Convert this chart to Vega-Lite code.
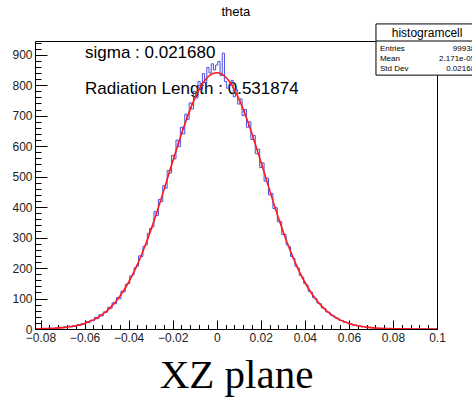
{
 "$schema": "https://vega.github.io/schema/vega-lite/v6.json",
 "width": 402, "height": 288,
 "autosize": {"type": "none"},
 "padding": {"left": 35, "top": 41, "right": 35, "bottom": 68},
 "background": "white",
 "config": {"view": {"stroke": "black", "strokeWidth": 1}, "font": "Liberation Sans"},
 "datasets": {
  "hist": [
   {"x":-0.082,"y":0},{"x":-0.081,"y":1},{"x":-0.08,"y":0},{"x":-0.079,"y":2},{"x":-0.078,"y":1},{"x":-0.077,"y":1},{"x":-0.076,"y":3},{"x":-0.075,"y":2},{"x":-0.074,"y":1},{"x":-0.073,"y":4},
   {"x":-0.072,"y":3},{"x":-0.071,"y":6},{"x":-0.07,"y":4},{"x":-0.069,"y":7},{"x":-0.068,"y":5},{"x":-0.067,"y":9},{"x":-0.066,"y":7},{"x":-0.065,"y":11},{"x":-0.064,"y":9},{"x":-0.063,"y":14},
   {"x":-0.062,"y":12},{"x":-0.061,"y":18},{"x":-0.06,"y":16},{"x":-0.059,"y":24},{"x":-0.058,"y":21},{"x":-0.057,"y":29},{"x":-0.056,"y":27},{"x":-0.055,"y":38},{"x":-0.054,"y":34},{"x":-0.053,"y":47},
   {"x":-0.052,"y":43},{"x":-0.051,"y":56},{"x":-0.05,"y":55},{"x":-0.049,"y":71},{"x":-0.048,"y":68},{"x":-0.047,"y":86},{"x":-0.046,"y":83},{"x":-0.045,"y":103},{"x":-0.044,"y":99},{"x":-0.043,"y":124},
   {"x":-0.042,"y":122},{"x":-0.041,"y":147},{"x":-0.04,"y":149},{"x":-0.039,"y":174},{"x":-0.038,"y":178},{"x":-0.037,"y":201},{"x":-0.036,"y":206},{"x":-0.035,"y":240},{"x":-0.034,"y":238},{"x":-0.033,"y":271},
   {"x":-0.032,"y":276},{"x":-0.031,"y":314},{"x":-0.03,"y":330},{"x":-0.029,"y":335},{"x":-0.028,"y":385},{"x":-0.027,"y":372},{"x":-0.026,"y":425},{"x":-0.025,"y":418},{"x":-0.024,"y":470},{"x":-0.023,"y":462},
   {"x":-0.022,"y":520},{"x":-0.021,"y":512},{"x":-0.02,"y":570},{"x":-0.019,"y":558},{"x":-0.018,"y":620},{"x":-0.017,"y":598},{"x":-0.016,"y":662},{"x":-0.015,"y":640},{"x":-0.014,"y":705},{"x":-0.013,"y":688},
   {"x":-0.012,"y":742},{"x":-0.011,"y":722},{"x":-0.01,"y":780},{"x":-0.009,"y":758},{"x":-0.008,"y":812},{"x":-0.007,"y":785},{"x":-0.006,"y":838},{"x":-0.005,"y":808},{"x":-0.004,"y":858},{"x":-0.003,"y":840},
   {"x":-0.002,"y":870},{"x":-0.001,"y":850},{"x":0,"y":866},{"x":0.001,"y":878},{"x":0.002,"y":832},{"x":0.003,"y":905},{"x":0.004,"y":812},{"x":0.005,"y":790},{"x":0.006,"y":800},{"x":0.007,"y":815},
   {"x":0.008,"y":762},{"x":0.009,"y":785},{"x":0.01,"y":738},{"x":0.011,"y":755},{"x":0.012,"y":700},{"x":0.013,"y":720},{"x":0.014,"y":662},{"x":0.015,"y":680},{"x":0.016,"y":622},{"x":0.017,"y":635},
   {"x":0.018,"y":575},{"x":0.019,"y":590},{"x":0.02,"y":530},{"x":0.021,"y":545},{"x":0.022,"y":485},{"x":0.023,"y":495},{"x":0.024,"y":440},{"x":0.025,"y":445},{"x":0.026,"y":395},{"x":0.027,"y":398},
   {"x":0.028,"y":352},{"x":0.029,"y":352},{"x":0.03,"y":310},{"x":0.031,"y":310},{"x":0.032,"y":276},{"x":0.033,"y":270},{"x":0.034,"y":238},{"x":0.035,"y":232},{"x":0.036,"y":206},{"x":0.037,"y":200},
   {"x":0.038,"y":176},{"x":0.039,"y":170},{"x":0.04,"y":150},{"x":0.041,"y":144},{"x":0.042,"y":124},{"x":0.043,"y":121},{"x":0.044,"y":103},{"x":0.045,"y":100},{"x":0.046,"y":85},{"x":0.047,"y":83},
   {"x":0.048,"y":69},{"x":0.049,"y":67},{"x":0.05,"y":56},{"x":0.051,"y":55},{"x":0.052,"y":45},{"x":0.053,"y":44},{"x":0.054,"y":36},{"x":0.055,"y":35},{"x":0.056,"y":28},{"x":0.057,"y":28},
   {"x":0.058,"y":22},{"x":0.059,"y":22},{"x":0.06,"y":17},{"x":0.061,"y":17},{"x":0.062,"y":13},{"x":0.063,"y":13},{"x":0.064,"y":10},{"x":0.065,"y":10},{"x":0.066,"y":7},{"x":0.067,"y":8},
   {"x":0.068,"y":5},{"x":0.069,"y":6},{"x":0.07,"y":4},{"x":0.071,"y":4},{"x":0.072,"y":3},{"x":0.073,"y":3},{"x":0.074,"y":2},{"x":0.075,"y":2},{"x":0.076,"y":1},{"x":0.077,"y":2},
   {"x":0.078,"y":1},{"x":0.079,"y":1},{"x":0.08,"y":0},{"x":0.081,"y":1},{"x":0.082,"y":0},{"x":0.083,"y":1},{"x":0.084,"y":0},{"x":0.09,"y":0},{"x":0.095,"y":0},{"x":0.1,"y":0}
  ],
  "fit": [
   {"x":-0.082,"y":0.66},{"x":-0.08,"y":0.93},{"x":-0.078,"y":1.3},{"x":-0.076,"y":1.8},{"x":-0.074,"y":2.5},{"x":-0.072,"y":3.4},{"x":-0.07,"y":4.6},{"x":-0.068,"y":6.1},{"x":-0.066,"y":8.2},{"x":-0.064,"y":10.8},
   {"x":-0.062,"y":14.1},{"x":-0.06,"y":18.3},{"x":-0.058,"y":23.5},{"x":-0.056,"y":29.9},{"x":-0.054,"y":37.8},{"x":-0.052,"y":47.4},{"x":-0.05,"y":58.9},{"x":-0.048,"y":72.5},{"x":-0.046,"y":88.6},{"x":-0.044,"y":107.3},
   {"x":-0.042,"y":128.9},{"x":-0.04,"y":153.4},{"x":-0.038,"y":181.1},{"x":-0.036,"y":211.9},{"x":-0.034,"y":245.9},{"x":-0.032,"y":282.9},{"x":-0.03,"y":322.8},{"x":-0.028,"y":365.2},{"x":-0.026,"y":409.7},{"x":-0.024,"y":455.7},
   {"x":-0.022,"y":502.6},{"x":-0.02,"y":549.5},{"x":-0.018,"y":595.8},{"x":-0.016,"y":640.5},{"x":-0.014,"y":682.7},{"x":-0.012,"y":721.5},{"x":-0.01,"y":756.1},{"x":-0.008,"y":785.6},{"x":-0.006,"y":809.4},{"x":-0.004,"y":826.8},
   {"x":-0.002,"y":837.4},{"x":0,"y":841},{"x":0.002,"y":837.4},{"x":0.004,"y":826.8},{"x":0.006,"y":809.4},{"x":0.008,"y":785.6},{"x":0.01,"y":756.1},{"x":0.012,"y":721.5},{"x":0.014,"y":682.7},{"x":0.016,"y":640.5},
   {"x":0.018,"y":595.8},{"x":0.02,"y":549.5},{"x":0.022,"y":502.6},{"x":0.024,"y":455.7},{"x":0.026,"y":409.7},{"x":0.028,"y":365.2},{"x":0.03,"y":322.8},{"x":0.032,"y":282.9},{"x":0.034,"y":245.9},{"x":0.036,"y":211.9},
   {"x":0.038,"y":181.1},{"x":0.04,"y":153.4},{"x":0.042,"y":128.9},{"x":0.044,"y":107.3},{"x":0.046,"y":88.6},{"x":0.048,"y":72.5},{"x":0.05,"y":58.9},{"x":0.052,"y":47.4},{"x":0.054,"y":37.8},{"x":0.056,"y":29.9},
   {"x":0.058,"y":23.5},{"x":0.06,"y":18.3},{"x":0.062,"y":14.1},{"x":0.064,"y":10.8},{"x":0.066,"y":8.2},{"x":0.068,"y":6.1},{"x":0.07,"y":4.6},{"x":0.072,"y":3.4},{"x":0.074,"y":2.5},{"x":0.076,"y":1.8},
   {"x":0.078,"y":1.3},{"x":0.08,"y":0.93},{"x":0.082,"y":0.66},{"x":0.084,"y":0.46},{"x":0.086,"y":0.32},{"x":0.088,"y":0.22},{"x":0.09,"y":0.15},{"x":0.092,"y":0.1},{"x":0.094,"y":0.07},{"x":0.096,"y":0.04},{"x":0.098,"y":0.03},{"x":0.1,"y":0.02}
  ],
  "notes": [
   {"x":-0.0598,"y":905,"label":"sigma : 0.021680"},
   {"x":-0.0598,"y":787,"label":"Radiation Length : 0.531874"}
  ],
  "title": [{"x":0.0087,"y":1040,"label":"theta"}],
  "box": [{"x":0.0723,"x2":0.1186,"y":1001,"y2":833}],
  "sep": [{"x":0.0723,"x2":0.1186,"y":945}],
  "head": [{"x":0.0955,"y":971,"label":"histogramcell"}],
  "statnames": [{"x":0.0741,"y":919,"label":"Entries"},{"x":0.0741,"y":886,"label":"Mean"},{"x":0.0741,"y":853,"label":"Std Dev"}],
  "statvals": [{"x":0.1173,"y":919,"label":"99938"},{"x":0.1173,"y":886,"label":"2.171e-05"},{"x":0.1173,"y":853,"label":"0.02168"}]
 },
 "layer": [
  {"data": {"name": "notes"}, "mark": {"type": "text", "align": "left", "baseline": "middle", "fontSize": 17, "font": "Liberation Sans", "color": "black"},
   "encoding": {
    "x": {"field": "x", "type": "quantitative",
      "scale": {"domain": [-0.0825, 0.1], "nice": false, "zero": false},
      "axis": {"values": [-0.08,-0.076,-0.072,-0.068,-0.064,-0.06,-0.056,-0.052,-0.048,-0.044,-0.04,-0.036,-0.032,-0.028,-0.024,-0.02,-0.016,-0.012,-0.008,-0.004,0,0.004,0.008,0.012,0.016,0.02,0.024,0.028,0.032,0.036,0.04,0.044,0.048,0.052,0.056,0.06,0.064,0.068,0.072,0.076,0.08,0.084,0.088,0.092,0.096,0.1],
        "tickCount": 200,
        "labelExpr": "abs(datum.value*50 - round(datum.value*50)) < 1e-6 ? format(datum.value, '~g') : ''",
        "tickSize": {"condition": {"test": "abs(datum.value*50 - round(datum.value*50)) < 1e-6", "value": -9}, "value": -4.5},
        "labelPadding": 12, "labelFontSize": 12, "labelColor": "#222", "labelFont": "Liberation Sans",
        "labelOverlap": false, "labelFlush": false, "labelBound": false, "grid": false,
        "domainColor": "black", "tickColor": "black",
        "title": "XZ plane", "titleFont": "Liberation Serif", "titleFontSize": 41, "titleFontWeight": "normal", "titleColor": "black", "titlePadding": 8}},
    "y": {"field": "y", "type": "quantitative",
      "scale": {"domain": [0, 945], "nice": false},
      "axis": {"values": [0,20,40,60,80,100,120,140,160,180,200,220,240,260,280,300,320,340,360,380,400,420,440,460,480,500,520,540,560,580,600,620,640,660,680,700,720,740,760,780,800,820,840,860,880,900,920,940],
        "tickCount": 200,
        "labelExpr": "datum.value % 100 === 0 ? datum.label : ''",
        "tickSize": {"condition": {"test": "datum.value % 100 === 0", "value": -12}, "value": -6},
        "labelPadding": 15, "labelFontSize": 12, "labelColor": "#222", "labelFont": "Liberation Sans",
        "labelOverlap": false, "labelFlush": false, "labelBound": false, "grid": false,
        "domainColor": "black", "tickColor": "black", "title": null}},
    "text": {"field": "label"}
   }},
  {"data": {"name": "title"}, "mark": {"type": "text", "align": "center", "baseline": "middle", "fontSize": 13, "font": "Liberation Sans", "color": "black"},
   "encoding": {"x": {"field": "x", "type": "quantitative"}, "y": {"field": "y", "type": "quantitative"}, "text": {"field": "label"}}},
  {"data": {"name": "hist"}, "mark": {"type": "line", "interpolate": "step", "color": "#4b4be6", "strokeWidth": 1, "clip": true},
   "encoding": {"x": {"field": "x", "type": "quantitative"}, "y": {"field": "y", "type": "quantitative"}}},
  {"data": {"name": "fit"}, "mark": {"type": "line", "interpolate": "monotone", "color": "#ff1a1a", "strokeWidth": 1.6, "clip": true},
   "encoding": {"x": {"field": "x", "type": "quantitative"}, "y": {"field": "y", "type": "quantitative"}}},
  {"data": {"name": "box"}, "mark": {"type": "rect", "fill": "white", "stroke": "black", "strokeWidth": 1},
   "encoding": {"x": {"field": "x", "type": "quantitative"}, "x2": {"field": "x2"}, "y": {"field": "y", "type": "quantitative"}, "y2": {"field": "y2"}}},
  {"data": {"name": "sep"}, "mark": {"type": "rule", "color": "black", "strokeWidth": 1},
   "encoding": {"x": {"field": "x", "type": "quantitative"}, "x2": {"field": "x2"}, "y": {"field": "y", "type": "quantitative"}}},
  {"data": {"name": "head"}, "mark": {"type": "text", "align": "center", "baseline": "middle", "fontSize": 12, "font": "Liberation Sans", "color": "black"},
   "encoding": {"x": {"field": "x", "type": "quantitative"}, "y": {"field": "y", "type": "quantitative"}, "text": {"field": "label"}}},
  {"data": {"name": "statnames"}, "mark": {"type": "text", "align": "left", "baseline": "middle", "fontSize": 8, "font": "Liberation Sans", "color": "black"},
   "encoding": {"x": {"field": "x", "type": "quantitative"}, "y": {"field": "y", "type": "quantitative"}, "text": {"field": "label"}}},
  {"data": {"name": "statvals"}, "mark": {"type": "text", "align": "right", "baseline": "middle", "fontSize": 8, "font": "Liberation Sans", "color": "black"},
   "encoding": {"x": {"field": "x", "type": "quantitative"}, "y": {"field": "y", "type": "quantitative"}, "text": {"field": "label"}}}
 ]
}
